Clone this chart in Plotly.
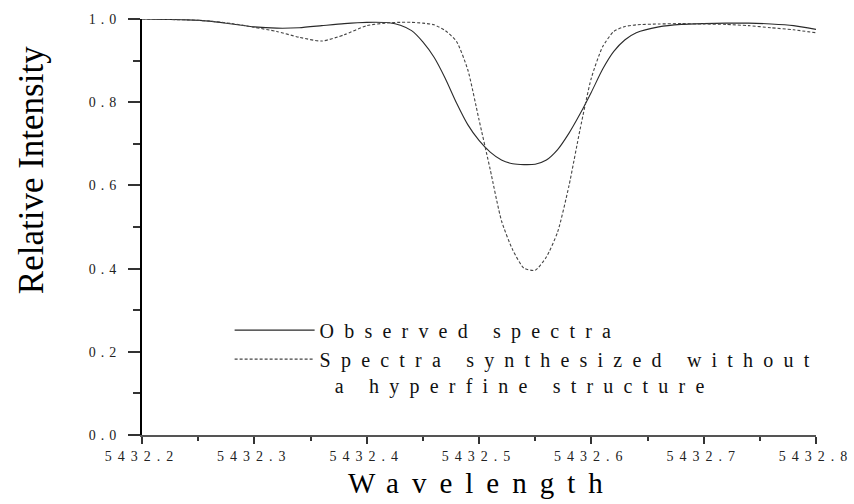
import plotly.graph_objects as go

wavelength = [5432.20, 5432.22, 5432.24, 5432.26, 5432.28, 5432.30, 5432.32, 5432.34,
              5432.36, 5432.38, 5432.40, 5432.42, 5432.43, 5432.44, 5432.45, 5432.46,
              5432.47, 5432.48, 5432.49, 5432.50, 5432.51, 5432.52, 5432.53, 5432.54,
              5432.55, 5432.56, 5432.57, 5432.58, 5432.59, 5432.60, 5432.61, 5432.62,
              5432.63, 5432.64, 5432.66, 5432.68, 5432.70, 5432.72, 5432.74, 5432.76,
              5432.78, 5432.80]

observed = [1.000, 0.999, 0.998, 0.995, 0.988, 0.981, 0.978, 0.979,
            0.984, 0.989, 0.992, 0.991, 0.985, 0.972, 0.945, 0.908,
            0.857, 0.798, 0.746, 0.708, 0.680, 0.661, 0.652, 0.650,
            0.651, 0.661, 0.686, 0.725, 0.772, 0.824, 0.879, 0.922,
            0.950, 0.967, 0.981, 0.987, 0.989, 0.990, 0.990, 0.988,
            0.984, 0.975]

synthesized = [1.000, 0.999, 0.998, 0.995, 0.989, 0.980, 0.970, 0.956,
               0.947, 0.962, 0.984, 0.991, 0.992, 0.992, 0.990, 0.986,
               0.972, 0.946, 0.878, 0.758, 0.638, 0.515, 0.445, 0.401,
               0.396, 0.428, 0.488, 0.598, 0.735, 0.858, 0.933, 0.970,
               0.982, 0.986, 0.988, 0.989, 0.988, 0.987, 0.984, 0.979,
               0.974, 0.967]

names = ["Observed spectra",
         "Spectra synthesized without<br>\u00a0a hyperfine structure"]

SERIF = "Liberation Serif, Times New Roman, serif"

fig = go.Figure()
fig.add_trace(go.Scatter(x=wavelength, y=observed, mode="lines", name=names[0],
                         line=dict(color="#2a2a2a", width=1.1, shape="spline", smoothing=0.6)))
fig.add_trace(go.Scatter(x=wavelength, y=synthesized, mode="lines", name=names[1],
                         line=dict(color="#444444", width=1.1, dash="3px,2px",
                                   shape="spline", smoothing=0.6)))

fig.update_layout(
    width=854, height=504,
    margin=dict(l=142, r=38, t=14, b=69),
    paper_bgcolor="white", plot_bgcolor="white",
    showlegend=True,
    legend=dict(x=0.13, y=0.299, xanchor="left", yanchor="top",
                font=dict(family=SERIF, size=20, color="#111111"),
                bgcolor="rgba(0,0,0,0)", itemwidth=80, valign="top",
                tracegroupgap=0),
    xaxis=dict(range=[5432.2, 5432.8], tick0=5432.2, dtick=0.1, tickformat=".1f",
               showgrid=False, zeroline=False, showline=True, linecolor="#555555",
               linewidth=2, ticks="outside", ticklen=7, tickwidth=1.5, tickcolor="#333333",
               tickfont=dict(family=SERIF, size=14, color="#222222"),
               minor=dict(dtick=0.05, ticks="outside", ticklen=4, tickwidth=1.5,
                          tickcolor="#333333", showgrid=False)),
    yaxis=dict(range=[0, 1.0], tick0=0, dtick=0.2, tickformat=".1f",
               showgrid=False, zeroline=False, showline=True, linecolor="#000000",
               linewidth=2, ticks="outside", ticklen=12, tickwidth=1.5, tickcolor="#333333",
               ticklabelstandoff=4,
               tickfont=dict(family=SERIF, size=14, color="#222222"),
               minor=dict(dtick=0.1, ticks="outside", ticklen=7, tickwidth=1.5,
                          tickcolor="#333333", showgrid=False)),
    annotations=[
        dict(text="Wavelength", xref="paper", yref="paper", x=0.505, y=-0.116,
             xanchor="center", yanchor="middle", showarrow=False,
             font=dict(family=SERIF, size=29, color="#000000")),
        dict(text="Relative Intensity", xref="paper", yref="paper", x=-0.1647, y=0.6366,
             xanchor="center", yanchor="middle", textangle=-90, showarrow=False,
             font=dict(family=SERIF, size=35, color="#000000")),
    ],
)

post = """
var gd = document.getElementById('{plot_id}');
function applySpacing(){
  gd.querySelectorAll('.xtick text').forEach(function(t){ t.style.letterSpacing='6px'; });
  gd.querySelectorAll('.ytick text').forEach(function(t){ t.style.letterSpacing='5px'; });
  gd.querySelectorAll('.legendtext').forEach(function(t){ t.style.letterSpacing='10.2px'; });
  gd.querySelectorAll('.legend .scrollbox, .legend').forEach(function(e){ e.removeAttribute('clip-path'); e.style.clipPath='none'; });
  gd.querySelectorAll('.annotation[data-index="0"] text').forEach(function(t){ t.style.letterSpacing='13px'; });
}
applySpacing();
if (gd.on) { gd.on('plotly_afterplot', applySpacing); }
"""

fig.write_html("out.html", post_script=post)
